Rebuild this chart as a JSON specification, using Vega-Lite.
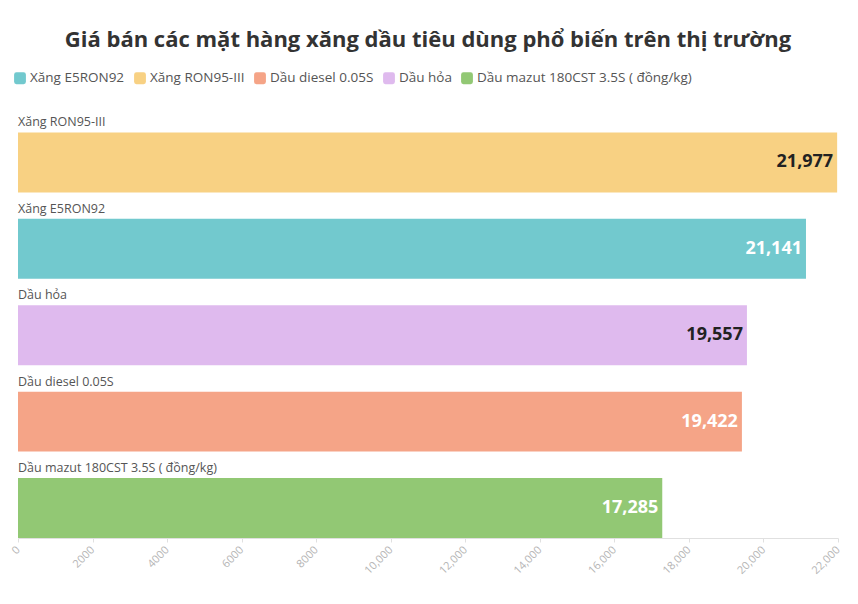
{
  "$schema": "https://vega.github.io/schema/vega-lite/v6.json",
  "autosize": "none",
  "width": 820,
  "height": 432,
  "padding": {"left": 18, "top": 106, "right": 20, "bottom": 66},
  "background": "white",
  "view": {"stroke": null},
  "title": {
    "text": "Giá bán các mặt hàng xăng dầu tiêu dùng phổ biến trên thị trường",
    "fontSize": 22,
    "font": "Open Sans",
    "fontWeight": "bold",
    "color": "#333333",
    "anchor": "middle",
    "frame": "group",
    "offset": 19
  },
  "data": {
    "values": [
      {"name": "Xăng RON95-III", "value": 21977},
      {"name": "Xăng E5RON92", "value": 21141},
      {"name": "Dầu hỏa", "value": 19557},
      {"name": "Dầu diesel 0.05S", "value": 19422},
      {"name": "Dầu mazut 180CST 3.5S ( đồng/kg)", "value": 17285}
    ]
  },
  "encoding": {
    "y": {
      "field": "name",
      "type": "nominal",
      "sort": ["Xăng RON95-III", "Xăng E5RON92", "Dầu hỏa", "Dầu diesel 0.05S", "Dầu mazut 180CST 3.5S ( đồng/kg)"],
      "scale": {"paddingInner": 0.306, "paddingOuter": 0.153, "align": 1},
      "axis": null
    }
  },
  "layer": [
    {
      "mark": {"type": "bar"},
      "encoding": {
        "x": {
          "field": "value",
          "type": "quantitative",
          "scale": {"domain": [0, 22000], "nice": false},
          "axis": {
            "values": [0, 2000, 4000, 6000, 8000, 10000, 12000, 14000, 16000, 18000, 20000, 22000],
            "labelExpr": "datum.value >= 10000 ? format(datum.value, ',') : format(datum.value, 'd')",
            "labelAngle": -45,
            "labelAlign": "right",
            "labelBaseline": "middle",
            "labelColor": "#b5b5b5",
            "labelFontSize": 11,
            "labelFont": "Open Sans",
            "labelPadding": 6,
            "grid": false,
            "domainColor": "#e0e0e0",
            "tickColor": "#e0e0e0",
            "tickSize": 4,
            "title": null
          }
        },
        "color": {
          "field": "name",
          "type": "nominal",
          "scale": {
            "domain": ["Xăng E5RON92", "Xăng RON95-III", "Dầu diesel 0.05S", "Dầu hỏa", "Dầu mazut 180CST 3.5S ( đồng/kg)"],
            "range": ["#72C9CE", "#F8D183", "#F5A487", "#DFBAEE", "#92C874"]
          },
          "legend": {
            "orient": "none",
            "legendX": -5,
            "legendY": -35,
            "direction": "horizontal",
            "title": null,
            "symbolType": "M-1,-0.6 Q-1,-1 -0.6,-1 L0.6,-1 Q1,-1 1,-0.6 L1,0.6 Q1,1 0.6,1 L-0.6,1 Q-1,1 -1,0.6 Z",
            "symbolSize": 140,
            "symbolOpacity": 1,
            "labelFontSize": 13.5,
            "labelFont": "Open Sans",
            "labelColor": "#555555",
            "labelLimit": 400,
            "columnPadding": 8,
            "symbolOffset": 0,
            "labelOffset": 3
          }
        }
      }
    },
    {
      "mark": {"type": "text", "align": "left", "baseline": "bottom", "dy": -3, "fontSize": 12.5, "font": "Open Sans", "color": "#555555"},
      "encoding": {
        "y": {"field": "name", "type": "nominal", "sort": ["Xăng RON95-III", "Xăng E5RON92", "Dầu hỏa", "Dầu diesel 0.05S", "Dầu mazut 180CST 3.5S ( đồng/kg)"], "bandPosition": 0},
        "x": {"datum": 0, "type": "quantitative"},
        "text": {"field": "name"}
      }
    },
    {
      "mark": {"type": "text", "align": "right", "baseline": "middle", "dx": -4, "fontSize": 18, "font": "Open Sans", "fontWeight": "bold"},
      "encoding": {
        "x": {"field": "value", "type": "quantitative"},
        "text": {"field": "value", "format": ","},
        "color": {
          "condition": {"test": "datum.name == 'Xăng RON95-III' || datum.name == 'Dầu hỏa'", "value": "#222222"},
          "value": "#ffffff"
        }
      }
    }
  ]
}
